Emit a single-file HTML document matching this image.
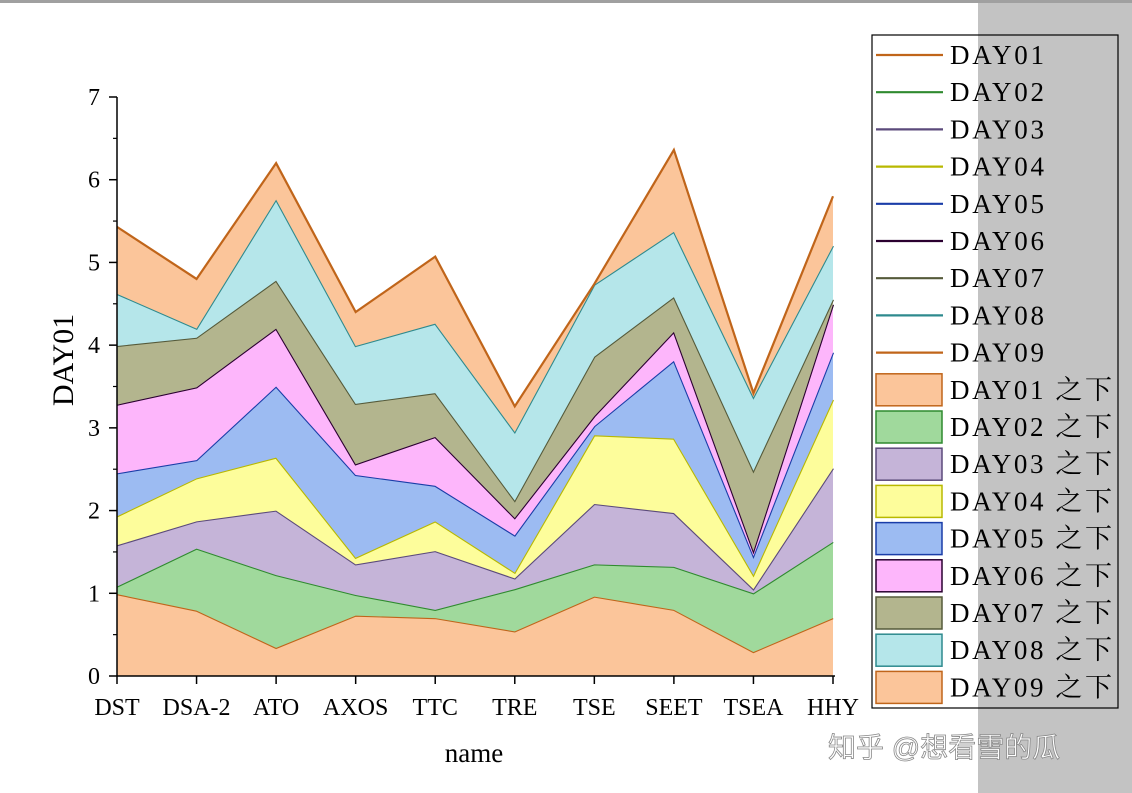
<!DOCTYPE html>
<html><head><meta charset="utf-8"><style>
html,body{margin:0;padding:0;background:#fff;}
svg{display:block;font-family:"Liberation Serif","Noto Serif CJK SC",serif;}
</style></head><body>
<svg id="chart" width="1132" height="793" viewBox="0 0 1132 793">
<rect x="0" y="0" width="1132" height="793" fill="#fff"/>
<rect x="978" y="0" width="154" height="793" fill="#c3c3c3"/>
<rect x="0" y="0" width="1132" height="3" fill="#a0a0a0"/>
<g id="areas"></g>
<g id="axes"></g>
<text x="474" y="762" font-size="27" text-anchor="middle">name</text>
<text x="0" y="0" font-size="30" text-anchor="middle" transform="translate(73,360) rotate(-90)">DAY01</text>
<rect x="872" y="35" width="246" height="673" fill="none" stroke="#000" stroke-width="1.2"/>
<g id="legend"></g>
<text x="828" y="757" font-size="28" fill="#fff" stroke="#888" stroke-width="0.8" font-family="Liberation Sans,Noto Sans CJK SC,sans-serif">知乎 @想看雪的瓜</text>
</svg>
<script>
const categories=["DST","DSA-2","ATO","AXOS","TTC","TRE","TSE","SEET","TSEA","HHY"];
const seriesNames=["DAY01","DAY02","DAY03","DAY04","DAY05","DAY06","DAY07","DAY08","DAY09"];
const day01=[0.99,0.79,0.34,0.73,0.70,0.54,0.96,0.80,0.29,0.70];
const day02=[0.09,0.75,0.88,0.25,0.10,0.51,0.39,0.52,0.71,0.92];
const day03=[0.50,0.33,0.78,0.37,0.71,0.13,0.73,0.65,0.05,0.89];
const day04=[0.35,0.52,0.64,0.08,0.36,0.07,0.83,0.90,0.17,0.83];
const day05=[0.52,0.22,0.86,1.00,0.43,0.45,0.11,0.94,0.23,0.57];
const day06=[0.83,0.88,0.70,0.13,0.59,0.21,0.12,0.35,0.06,0.58];
const day07=[0.71,0.60,0.58,0.73,0.53,0.21,0.72,0.42,0.97,0.06];
const day08=[0.63,0.11,0.98,0.70,0.84,0.83,0.87,0.79,0.89,0.65];
const day09=[0.81,0.60,0.44,0.41,0.81,0.31,0.01,0.99,0.05,0.60];
const yTicks=[0,1,2,3,4,5,6,7];

const series=[day01,day02,day03,day04,day05,day06,day07,day08,day09];
const fills=["#fbc59a","#a0d99c","#c5b4d8","#fdfd9b","#9cbbf2","#fdb6fb","#b3b58e","#b5e6ea","#fbc59a"];
const strokes=["#c0651a","#2f8a2f","#5b4a7b","#b8b800","#1a3da8","#2a0030","#555a3a","#2e8a8e","#c0651a"];
const NS="http://www.w3.org/2000/svg";
const X0=117,X1=833,Y0=676,Y1=97,YMAX=7;
function xs(i){return X0+(X1-X0)*i/(categories.length-1);}
function ys(v){return Y0-(Y0-Y1)*v/YMAX;}
function mk(t,a,p){const e=document.createElementNS(NS,t);for(const k in a)e.setAttribute(k,a[k]);p.appendChild(e);return e;}
const areas=document.getElementById('areas');
let base=categories.map(()=>0);
series.forEach((s,k)=>{
  const top=base.map((b,i)=>b+s[i]);
  let d="M"+categories.map((c,i)=>xs(i)+","+ys(top[i])).join(" L");
  for(let i=categories.length-1;i>=0;i--)d+=" L"+xs(i)+","+ys(base[i]);
  d+="Z";
  const p=mk('path',{d:d,fill:fills[k],stroke:"none"},areas);
  
  
  const l=mk('polyline',{points:categories.map((c,i)=>xs(i)+","+ys(top[i])).join(" "),fill:"none",stroke:strokes[k],"stroke-width":2.2},areas);
  
  
  base=top;
});
const axes=document.getElementById('axes');
mk('line',{x1:X0,y1:Y0,x2:X1+2,y2:Y0,stroke:"#000","stroke-width":1.5},axes);
mk('line',{x1:X0,y1:Y0,x2:X0,y2:Y1,stroke:"#000","stroke-width":1.5},axes);
yTicks.forEach(v=>{
  mk('line',{x1:X0-8,y1:ys(v),x2:X0,y2:ys(v),stroke:"#000","stroke-width":1.5},axes);
  if(v<YMAX)mk('line',{x1:X0-4,y1:ys(v+0.5),x2:X0,y2:ys(v+0.5),stroke:"#000","stroke-width":1.2},axes);
  const t=mk('text',{x:X0-17,y:ys(v)+8,"font-size":24,"text-anchor":"end"},axes);
  t.textContent=v;
  
  
});
categories.forEach((c,i)=>{
  mk('line',{x1:xs(i),y1:Y0,x2:xs(i),y2:Y0+8,stroke:"#000","stroke-width":1.5},axes);
  const t=mk('text',{x:xs(i),y:Y0+39,"font-size":24,"text-anchor":"middle"},axes);
  t.textContent=c;
  
  
});
const lg=document.getElementById('legend');
const step=37.2;
seriesNames.forEach((n,k)=>{
  const y=55+k*step;
  const l=mk('line',{x1:876,y1:y,x2:943,y2:y,stroke:strokes[k],"stroke-width":2.2},lg);
  
  
  const t=mk('text',{x:950,y:y+9,"font-size":27,textLength:94,lengthAdjust:"spacing"},lg);
  t.textContent=n;
  
  
});
seriesNames.forEach((n,k)=>{
  const y=55+(k+9)*step;
  const r=mk('rect',{x:876,y:y-16,width:66,height:32,fill:fills[k],stroke:strokes[k],"stroke-width":1.5},lg);
  
  
  const t=mk('text',{x:950,y:y+9,"font-size":27,textLength:162,lengthAdjust:"spacing"},lg);
  t.textContent=n+" 之下";
  
  
});
</script>
</body></html>
